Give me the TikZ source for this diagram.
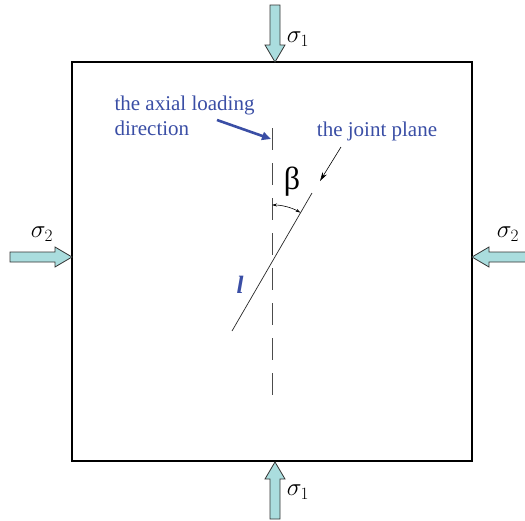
\documentclass[tikz,border=0pt]{standalone}
\usepackage{amsmath,amssymb}
\usepackage{fontspec}
\setmainfont{Liberation Serif}
\usetikzlibrary{arrows.meta}

\definecolor{loadfill}{RGB}{170,221,222}
\definecolor{labelblue}{RGB}{58,78,165}

\tikzset{
  load/.style={fill=loadfill, draw=black!80, line width=0.8pt},
  pics/loadarrow/.style={code={
    \draw[load] (0,-5) -- (#1-17,-5) -- (#1-17,-10) -- (#1,0) -- (#1-17,10) -- (#1-17,5) -- (0,5) -- cycle;
  }},
  bluetext/.style={text=labelblue, font=\fontsize{21}{25}\selectfont},
  stresslabel/.style={font=\fontsize{24}{26}\selectfont}
}

\begin{document}
\begin{tikzpicture}[x=1pt, y=-1pt]
\useasboundingbox (0,0) rectangle (525,520);

% Rock specimen
\draw[line width=1.3pt] (72,62) rectangle (472,461);

% Loading arrows
\pic[rotate=-90] at (275,5) {loadarrow=57};
\pic[rotate=90] at (275,519) {loadarrow=57};
\pic at (10,257) {loadarrow=62};
\pic[rotate=180] at (527,257) {loadarrow=55};

\node[stresslabel] (s1top) at (298,39) {$\sigma_1$};
\node[stresslabel] (s1bot) at (298,492) {$\sigma_1$};
\node[stresslabel] (s2left) at (42,234) {$\sigma_2$};
\node[stresslabel] (s2right) at (508,234) {$\sigma_2$};

% Axial direction and joint plane
\coordinate (o) at (272,262);
\coordinate (dtop) at (272,128);
\coordinate (dbot) at (272,395);
\coordinate (jlow) at (232,331);
\coordinate (jup) at (312,193);
\draw[dash pattern=on 22pt off 13pt, line width=0.9pt, black!70] (dtop) -- (dbot);
\draw[line width=0.7pt, black!85] (jlow) -- (jup);

% Angle beta
\draw[{Stealth[length=5pt,width=3pt]}-{Stealth[length=5pt,width=3pt]}, line width=0.6pt] (272,205) arc[start angle=-90, end angle=-60, radius=57];
\node[font=\fontsize{32}{34}\selectfont] (beta) at (292,182) {β};

% Labels
\node[bluetext, anchor=west, align=left] (axial) at (111,116) {the axial loading\\direction};
\coordinate (atail) at (217,120);
\coordinate (atip) at (271,139);
\draw[-{Triangle[length=9pt,width=8pt]}, line width=2.6pt, labelblue] (atail) -- (atip);

\node[bluetext] (joint) at (377,131) {the joint plane};
\coordinate (jtail) at (341,147);
\coordinate (jtip) at (320,181);
\draw[-{Stealth[length=9pt,width=5pt]}, line width=0.6pt] (jtail) -- (jtip);

\node[text=labelblue, font=\fontsize{25}{27}\selectfont\bfseries\itshape] (lname) at (240,285) {l};

\end{tikzpicture}
\end{document}
